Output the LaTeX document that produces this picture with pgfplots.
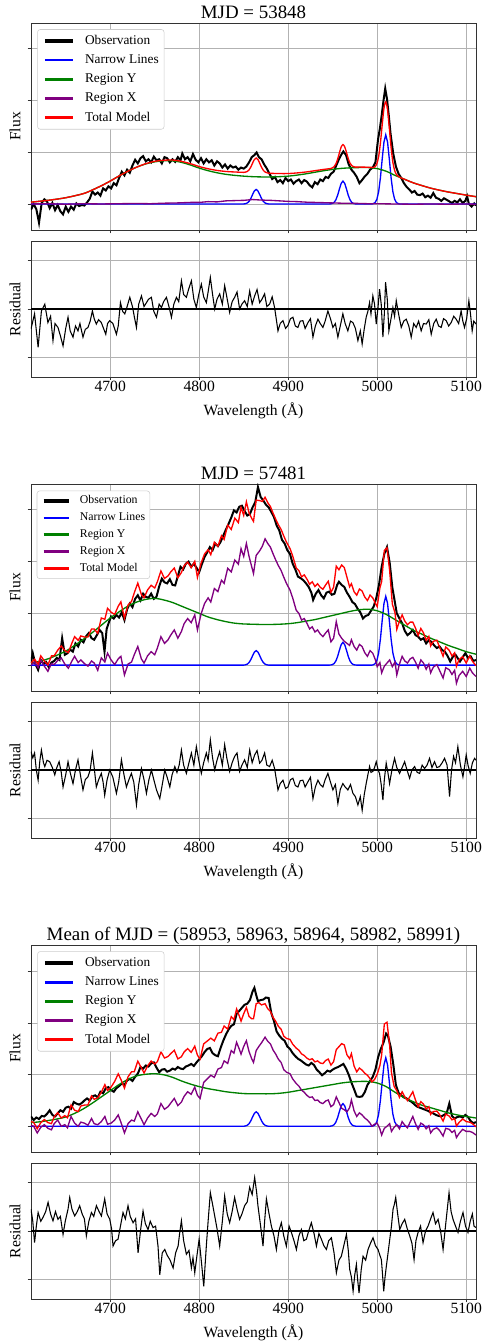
\documentclass[border=0pt]{standalone}
\usepackage{fontspec}
\setmainfont{Liberation Serif}
\usepackage{pgfplots}
\usepackage{pgfplotstable}
\pgfplotsset{compat=1.18}
\definecolor{mplgreen}{rgb}{0,0.5,0}
\definecolor{mplpurple}{rgb}{0.5,0,0.5}

% ---------------- shared narrow lines ----------------
\pgfplotstableread{
x y
4611 0
4850 0
4852 0.006
4854 0.019
4856 0.050
4858 0.106
4860 0.182
4862 0.251
4864 0.280
4866 0.251
4868 0.182
4870 0.106
4872 0.050
4874 0.019
4876 0.006
4878 0
4946 0
4947.5 0.002
4949.5 0.009
4951.5 0.029
4953.5 0.078
4955.5 0.166
4957.5 0.286
4959.5 0.395
4961.5 0.440
4963.5 0.395
4965.5 0.286
4967.5 0.166
4969.5 0.078
4971.5 0.029
4973.5 0.009
4975.5 0.002
4977 0
4994 0
4995.6 0.007
4997.6 0.027
4999.6 0.089
5001.6 0.235
5003.6 0.503
5005.6 0.863
5007.6 1.193
5009.6 1.330
5011.6 1.193
5013.6 0.863
5015.6 0.503
5017.6 0.235
5019.6 0.089
5021.6 0.027
5023.6 0.007
5025 0
5111 0
}\narrow

% ---------------- panel 1 ----------------
\pgfplotstableread{
x y
4611 -0.11
4614 0.00
4617 -0.10
4620 -0.36
4623 0.02
4626 0.09
4629 0.05
4632 -0.08
4635 0.02
4638 -0.12
4641 -0.02
4644 -0.14
4647 -0.20
4650 -0.05
4653 -0.15
4656 -0.05
4659 -0.11
4662 0.01
4665 -0.04
4668 -0.02
4671 -0.03
4674 0.03
4677 0.10
4680 0.24
4683 0.18
4686 0.22
4689 0.16
4692 0.30
4695 0.26
4698 0.34
4701 0.30
4704 0.40
4707 0.36
4710 0.50
4713 0.62
4716 0.55
4719 0.66
4722 0.60
4725 0.74
4728 0.85
4731 0.78
4734 0.88
4737 0.92
4740 0.82
4743 0.86
4746 0.80
4749 0.91
4752 0.84
4755 0.86
4758 0.78
4761 0.90
4764 0.88
4767 0.80
4770 0.86
4773 0.81
4776 0.90
4779 0.84
4781 0.97
4784 0.86
4787 0.90
4790 0.82
4793 0.96
4796 0.85
4799 0.80
4802 0.88
4805 0.78
4808 0.86
4811 0.80
4814 0.84
4817 0.74
4820 0.82
4823 0.78
4826 0.70
4829 0.76
4832 0.68
4835 0.74
4838 0.70
4841 0.72
4844 0.66
4847 0.70
4850 0.68
4853 0.72
4856 0.80
4859 0.90
4862 0.94
4864.5 0.99
4867 0.90
4870 0.86
4873 0.76
4876 0.68
4879 0.58
4882 0.48
4885 0.52
4888 0.42
4891 0.46
4894 0.40
4897 0.50
4900 0.44
4903 0.47
4906 0.39
4909 0.44
4912 0.47
4915 0.40
4918 0.46
4921 0.43
4924 0.36
4927 0.32
4930 0.42
4933 0.38
4936 0.47
4939 0.44
4942 0.52
4945 0.50
4948 0.58
4951 0.62
4954 0.74
4957 0.86
4960 0.96
4962 1.01
4965 0.94
4968 0.76
4971 0.66
4974 0.60
4977 0.52
4980 0.40
4983 0.46
4986 0.53
4989 0.58
4992 0.66
4995 0.70
4998 0.80
5001 1.25
5003 1.45
5005 1.70
5007 1.98
5009 2.22
5011 2.02
5013 1.70
5015 1.35
5018 0.97
5021 0.72
5024 0.58
5027 0.50
5030 0.40
5033 0.33
5036 0.28
5039 0.22
5042 0.25
5045 0.18
5048 0.17
5051 0.20
5054 0.13
5057 0.16
5060 0.12
5063 0.21
5066 0.12
5069 0.10
5072 0.06
5075 0.11
5078 0.08
5081 0.05
5084 0.02
5087 0.06
5090 0.03
5093 0.09
5096 0.02
5099 0.06
5101 0.15
5103 0.00
5106 -0.05
5109 0.01
5111 -0.03
}\obsA

\pgfplotstableread{
x y
4611 0.035
4630 0.07
4650 0.12
4670 0.20
4680 0.27
4690 0.35
4700 0.44
4710 0.54
4720 0.63
4730 0.71
4740 0.77
4750 0.81
4760 0.83
4770 0.83
4780 0.80
4790 0.75
4800 0.69
4810 0.64
4820 0.60
4830 0.57
4840 0.55
4850 0.535
4860 0.525
4870 0.52
4880 0.52
4890 0.525
4900 0.535
4910 0.555
4920 0.58
4930 0.61
4940 0.64
4950 0.665
4960 0.685
4970 0.695
4980 0.70
4990 0.70
5000 0.68
5010 0.63
5020 0.55
5030 0.48
5040 0.41
5050 0.355
5060 0.305
5070 0.265
5080 0.23
5090 0.20
5100 0.17
5111 0.14
}\regYA

\pgfplotstableread{
x y
4611 0.00
4630 0.005
4650 -0.005
4670 0.005
4690 0.00
4710 0.005
4730 0.01
4745 0.005
4760 0.015
4775 0.02
4790 0.03
4800 0.03
4810 0.045
4820 0.04
4830 0.06
4840 0.065
4850 0.07
4860 0.085
4870 0.075
4880 0.07
4890 0.06
4900 0.05
4910 0.045
4920 0.035
4930 0.03
4940 0.025
4950 0.02
4960 0.015
4970 0.015
4980 0.01
4990 0.005
5000 0.005
5020 0.00
5040 -0.005
5060 0.00
5080 -0.005
5100 0.00
5111 -0.005
}\regXA

\pgfplotstableread{
x y
4611 0.035
4630 0.07
4650 0.12
4670 0.20
4680 0.27
4690 0.35
4700 0.44
4710 0.54
4720 0.63
4730 0.71
4740 0.775
4750 0.82
4760 0.84
4770 0.845
4780 0.82
4790 0.775
4800 0.72
4810 0.677
4820 0.645
4830 0.625
4840 0.615
4850 0.608
4852 0.613
4854 0.625
4856 0.655
4858 0.71
4860 0.787
4862 0.855
4864 0.883
4866 0.853
4868 0.783
4870 0.706
4872 0.648
4874 0.615
4876 0.60
4880 0.59
4890 0.585
4900 0.585
4910 0.597
4920 0.615
4930 0.64
4940 0.665
4947.5 0.681
4949.5 0.693
4951.5 0.716
4953.5 0.768
4955.5 0.859
4957.5 0.982
4959.5 1.094
4961.5 1.142
4963.5 1.098
4965.5 0.99
4967.5 0.871
4969.5 0.784
4971.5 0.736
4973.5 0.716
4976 0.708
4980 0.71
4985 0.708
4990 0.707
4995.6 0.702
4997.6 0.718
4999.6 0.775
5001.6 0.913
5003.6 1.172
5005.6 1.521
5007.6 1.84
5009.6 1.964
5011.6 1.812
5013.6 1.464
5015.6 1.086
5017.6 0.801
5019.6 0.642
5021.6 0.566
5023.6 0.532
5026 0.508
5030 0.48
5040 0.41
5050 0.355
5060 0.305
5070 0.265
5080 0.23
5090 0.20
5100 0.17
5111 0.14
}\totA

\pgfplotstableread{
x y
4611 -0.41
4615 -0.10
4619 -0.79
4622.7 -0.04
4626.5 0.10
4630 -0.28
4633 -0.15
4635.7 -0.65
4638 -0.30
4641.3 -0.38
4644 -0.55
4647 -0.76
4650 -0.40
4652.6 -0.17
4655 -0.45
4658.2 -0.58
4661 -0.35
4663.8 -0.45
4666 -0.30
4669.4 -0.58
4672 -0.42
4675 -0.38
4677.5 -0.25
4680 -0.04
4682 -0.20
4684.4 -0.31
4687 -0.22
4690 -0.28
4692.5 -0.40
4695 -0.52
4697 -0.30
4699.5 -0.24
4703 -0.30
4707 -0.52
4709 -0.35
4711.5 0.13
4714 -0.05
4716.4 -0.10
4719 0.05
4722 0.24
4725 0.05
4727 -0.15
4729.5 -0.38
4732 0.10
4735.1 0.27
4738 0.05
4740.7 0.13
4743 0.20
4746.3 0.24
4749 -0.05
4752 -0.17
4755 0.10
4757.6 0.03
4760 0.15
4763.2 0.24
4766 0.05
4768.8 -0.17
4771.5 0.10
4774.4 0.24
4777 0.15
4780 0.58
4782.5 0.30
4785.6 0.24
4788 0.40
4791.2 0.58
4794 0.20
4796.8 0.03
4799.5 0.30
4802.4 0.51
4805 0.25
4808 0.13
4810 0.35
4812.5 0.65
4815 0.30
4817.4 0.00
4820 0.20
4823 0.31
4826 0.10
4828.6 0.48
4831 0.25
4834.2 -0.07
4837 0.15
4839.8 0.24
4842.5 0.35
4845.4 0.00
4848 0.10
4851 0.17
4854 0.05
4856.7 0.37
4859.5 0.10
4862.3 0.27
4865 0.40
4867.9 0.13
4870.5 0.20
4873.5 0.31
4876 0.05
4879.1 0.10
4882 0.25
4884.7 0.03
4888.5 -0.45
4891 -0.30
4894.1 -0.24
4897 -0.40
4899.7 -0.34
4902.5 -0.20
4905.3 -0.17
4908 -0.35
4910.9 -0.38
4913.5 -0.25
4916.5 -0.24
4919 -0.40
4922.2 -0.28
4925 -0.20
4927.8 -0.58
4930.5 -0.35
4933.4 -0.21
4936 -0.30
4939 -0.38
4941.5 -0.25
4944.6 -0.04
4947.5 -0.20
4950.2 -0.38
4953 -0.30
4955.8 -0.58
4958.5 -0.35
4961.4 -0.10
4964 -0.30
4967 -0.45
4970 -0.25
4972.7 -0.28
4975.5 -0.40
4978.3 -0.65
4981 -0.45
4983.1 -0.72
4985.5 -0.40
4987.6 -0.17
4989.5 -0.05
4991.4 0.13
4993 -0.10
4995.1 0.27
4997 0.10
4998.9 -0.31
5001 0.05
5002.6 0.41
5004.5 0.10
5006.4 -0.58
5008 -0.10
5009.4 0.55
5011.3 0.20
5013.1 -0.45
5015.5 -0.20
5017.6 0.03
5019.5 -0.15
5021.4 0.17
5024 -0.10
5027 -0.38
5029.8 -0.25
5032.6 -0.21
5035.5 -0.35
5038.2 -0.58
5041 -0.30
5043.8 -0.38
5046.5 -0.25
5049.4 -0.45
5052 -0.30
5055.1 -0.31
5058 -0.22
5060.7 -0.52
5063.5 -0.30
5066.3 -0.21
5069 -0.35
5071.9 -0.38
5074.5 -0.20
5077.5 -0.24
5080.3 -0.35
5083.1 -0.28
5086 -0.15
5088.7 -0.21
5091.5 -0.30
5094.3 -0.04
5096.2 -0.25
5098.1 -0.38
5100.5 -0.20
5103 0.17
5104.8 -0.10
5106.7 -0.45
5108.5 -0.25
5111 -0.31
}\resA

% ---------------- panel 2 ----------------
\pgfplotstableread{
x y
4611 0.05
4613 0.23
4616 0.02
4619 -0.09
4622 0.10
4625 0.02
4628 0.06
4631 -0.04
4634 0.05
4637 0.08
4640 0.14
4643 0.10
4646 0.52
4649 0.20
4652 0.23
4655 0.30
4658 0.26
4661 0.42
4664 0.36
4667 0.49
4670 0.44
4673 0.56
4676 0.62
4679 0.52
4682 0.49
4685 0.58
4688 0.68
4691 0.62
4693.6 0.26
4696 0.70
4699 0.85
4701 0.94
4704 0.90
4707 0.97
4710 0.92
4713 1.02
4716 0.87
4719 1.08
4722 1.19
4725 1.12
4728 1.28
4731 1.35
4734 1.25
4737 1.38
4740 1.32
4743 1.30
4746 1.38
4749 1.28
4752 1.32
4755 1.52
4758 1.67
4761 1.60
4764 1.58
4767 1.66
4770 1.55
4773 1.54
4776 1.72
4779 1.90
4782 1.85
4785 1.96
4788 2.00
4791 1.90
4794 1.96
4797 1.88
4800 1.80
4803 1.95
4806 2.09
4809 2.18
4812 2.28
4815 2.22
4818 2.35
4821 2.30
4824 2.38
4827 2.50
4830 2.62
4833 2.73
4836 2.85
4839 2.99
4842 2.95
4845 3.06
4848 3.08
4851 2.98
4854 2.89
4857 2.92
4860 3.05
4863 3.15
4866 3.44
4869 3.25
4872 3.18
4875 3.10
4878 3.05
4881 2.96
4884 2.86
4887 2.70
4890 2.60
4893 2.42
4896 2.35
4899 2.22
4902 2.15
4905 1.96
4908 1.85
4911 1.71
4914 1.68
4917 1.64
4920 1.58
4923 1.51
4926 1.40
4928 1.26
4931 1.38
4934 1.45
4937 1.35
4940 1.29
4943 1.40
4946 1.42
4949 1.36
4952 1.38
4955 1.55
4957 1.61
4960 1.55
4963 1.51
4966 1.40
4969 1.32
4972 1.22
4975 1.18
4978 1.09
4981 1.02
4984 0.90
4987 0.95
4990 0.97
4993 1.05
4996 1.13
4999 1.30
5002 1.55
5005 1.90
5008 2.15
5011 2.28
5014 1.98
5017 1.50
5019 1.30
5022 1.00
5025 0.90
5028 0.81
5031 0.66
5034 0.58
5037 0.62
5040 0.68
5043 0.58
5046 0.55
5049 0.49
5052 0.52
5055 0.42
5058 0.48
5061 0.45
5064 0.38
5067 0.33
5070 0.36
5073 0.29
5076 0.26
5079 0.18
5082 0.07
5085 0.16
5088 0.20
5091 0.12
5093 0.07
5096 0.15
5099 0.23
5102 0.14
5105 0.17
5108 0.08
5111 0.10
}\obsB

\pgfplotstableread{
x y
4611 0.04
4620 0.07
4630 0.12
4640 0.19
4650 0.27
4660 0.38
4670 0.50
4680 0.63
4690 0.77
4700 0.91
4710 1.03
4720 1.14
4730 1.22
4740 1.27
4750 1.29
4760 1.26
4770 1.21
4780 1.14
4790 1.07
4800 1.00
4810 0.93
4820 0.88
4830 0.84
4840 0.81
4850 0.795
4860 0.79
4870 0.785
4880 0.785
4890 0.79
4900 0.80
4910 0.82
4920 0.85
4930 0.88
4940 0.92
4950 0.96
4960 1.00
4970 1.04
4980 1.07
4990 1.08
5000 1.05
5010 0.98
5020 0.88
5030 0.78
5040 0.68
5050 0.60
5060 0.52
5070 0.45
5080 0.38
5090 0.32
5100 0.26
5111 0.21
}\regYB

\pgfplotstableread{
x X T
4611 0.00 0.04
4615 0.06 0.113
4619 -0.05 0.017
4622 0.10 0.18
4626 -0.02 0.08
4630 -0.12 0.00
4634 0.03 0.178
4637 0.01 0.179
4641 0.09 0.288
4645 0.14 0.37
4649 0.02 0.282
4653 -0.06 0.243
4657 0.08 0.427
4660 0.17 0.55
4664 0.05 0.478
4667 0.10 0.564
4671 0.03 0.543
4675 -0.02 0.545
4679 0.08 0.697
4682 0.04 0.698
4686 -0.10 0.614
4690 0.14 0.91
4694 0.06 0.886
4697 0.23 1.098
4701 0.10 1.022
4705 0.01 0.98
4709 0.12 1.138
4712 0.17 1.222
4716 -0.19 0.906
4720 0.02 1.16
4724 0.06 1.232
4727 0.20 1.396
4731 0.36 1.585
4735 0.12 1.365
4738 0.04 1.30
4742 0.18 1.454
4746 0.26 1.542
4750 0.20 1.49
4753 0.33 1.611
4757 0.55 1.819
4761 0.42 1.675
4765 0.49 1.725
4768 0.58 1.80
4772 0.68 1.876
4776 0.52 1.688
4780 0.65 1.79
4783 0.80 1.919
4787 0.90 1.991
4791 0.82 1.883
4795 0.97 2.005
4798 0.68 1.694
4802 0.98 1.966
4806 1.19 2.148
4810 1.30 2.23
4813 1.22 2.135
4817 1.48 2.375
4821 1.42 2.296
4825 1.64 2.50
4828 1.58 2.428
4832 1.87 2.704
4836 1.80 2.622
4840 2.03 2.84
4844 1.95 2.754
4847 2.25 3.05
4850 2.10 2.895
4853 2.35 3.156
4856 2.10 2.942
4859 1.90 2.835
4861 1.77 2.777
4864 2.12 3.189
4868 2.21 3.178
4871 2.30 3.163
4874 2.44 3.244
4877 2.35 3.138
4880 2.28 3.065
4883 2.15 2.936
4886 2.03 2.818
4889 1.92 2.71
4892 1.83 2.622
4895 1.70 2.495
4898 1.58 2.378
4902 1.45 2.254
4905 1.30 2.11
4909 1.06 1.878
4912 1.00 1.826
4915 0.87 1.705
4918 0.90 1.744
4921 0.81 1.663
4924 0.70 1.562
4927 0.74 1.611
4930 0.64 1.52
4933 0.68 1.572
4936 0.60 1.504
4939 0.55 1.466
4942 0.62 1.548
4945 0.68 1.62
4948 0.45 1.406
4951 0.52 1.506
4954 0.84 1.912
4957 0.60 1.842
4960 0.52 1.934
4963 0.46 1.886
4966 0.42 1.698
4969 0.38 1.512
4971 0.49 1.572
4974 0.36 1.418
4977 0.29 1.351
4980 0.40 1.47
4983 0.36 1.433
4986 0.24 1.316
4989 0.17 1.249
4992 0.28 1.354
4995 0.23 1.299
4998 0.10 1.191
5000 -0.03 1.13
5003 0.05 1.489
5005 -0.15 1.615
5008 -0.02 2.215
5011 0.04 2.267
5014 0.10 1.824
5017 -0.03 1.178
5020 0.06 1.011
5022 -0.19 0.691
5025 0.02 0.852
5028 0.17 0.97
5031 0.08 0.85
5034 0.04 0.78
5037 0.12 0.83
5040 0.15 0.83
5043 0.06 0.716
5046 -0.06 0.572
5049 0.10 0.708
5052 0.04 0.624
5055 -0.08 0.48
5058 0.02 0.556
5060 -0.15 0.37
5063 -0.04 0.459
5067 0.01 0.481
5070 -0.10 0.35
5074 -0.25 0.172
5077 -0.05 0.351
5081 -0.09 0.284
5084 -0.18 0.176
5087 -0.10 0.238
5089 -0.35 -0.024
5092 -0.20 0.108
5096 -0.12 0.164
5100 -0.22 0.04
5104 -0.06 0.18
5107 -0.15 0.075
5111 -0.22 -0.01
}\modB

\pgfplotstableread{
x y
4611 0.38
4613 0.25
4615 0.35
4617 0.00
4619 -0.21
4621 0.20
4622.7 0.41
4625 0.15
4626.5 0.07
4629 0.20
4632 0.17
4635 0.05
4637.7 -0.10
4640 0.05
4642.6 0.17
4645 -0.05
4647 -0.35
4650 -0.10
4652.6 0.17
4655 -0.05
4658.2 -0.28
4661 0.00
4663.8 0.21
4666.5 -0.10
4669.4 -0.41
4672 -0.20
4675 -0.14
4677.5 0.00
4680 0.35
4682 0.05
4684.4 -0.35
4687 -0.20
4690 -0.07
4692 -0.25
4693.8 -0.52
4696.5 -0.20
4699.5 0.00
4703 -0.15
4707 -0.48
4709.5 -0.25
4712.6 0.21
4715.5 -0.10
4718.2 -0.35
4721 -0.20
4723.8 -0.07
4726.5 -0.25
4729.5 -0.72
4732 -0.30
4735.1 0.03
4738 -0.20
4740.7 -0.48
4743.5 -0.20
4746.3 0.00
4749 -0.20
4752 -0.41
4755.7 -0.59
4758.5 -0.30
4761.3 0.00
4764 -0.15
4767 -0.35
4769.5 -0.10
4772.6 0.07
4775 -0.05
4777.5 0.10
4780 0.41
4782.5 0.10
4785.6 -0.07
4788.5 0.15
4791.2 0.35
4794 0.10
4796.8 0.48
4799.5 0.20
4802.4 -0.07
4805 0.15
4808 0.35
4810 0.20
4812.5 0.62
4815 0.25
4817.4 0.00
4820 0.20
4823 0.38
4826 0.10
4828.6 0.52
4831 0.25
4834.2 -0.03
4837 0.15
4839.8 0.28
4842.5 0.35
4845.4 -0.03
4848 0.10
4851 0.21
4854 0.05
4856.7 0.41
4859.5 0.15
4862.3 0.31
4865 0.40
4867.9 0.14
4870.5 0.20
4873.5 0.35
4876 0.10
4879.1 0.07
4882 0.20
4884.7 0.03
4888.5 -0.41
4891 -0.28
4894.1 -0.21
4897 -0.38
4899.7 -0.35
4902.5 -0.20
4905.3 -0.17
4908 -0.32
4910.9 -0.35
4913.5 -0.22
4916.5 -0.21
4919 -0.35
4922.2 -0.24
4925 -0.15
4927.8 -0.59
4930.5 -0.35
4933.4 -0.21
4936 -0.30
4939 -0.35
4941.5 -0.20
4944.6 -0.07
4947.5 -0.25
4950.2 -0.41
4953 -0.30
4955.8 -0.69
4958.5 -0.40
4961.4 -0.28
4964 -0.35
4967 -0.41
4970 -0.30
4972.7 -0.48
4975.5 -0.55
4978.3 -0.72
4981 -0.55
4983.1 -0.83
4985.5 -0.50
4987.6 -0.28
4989.5 -0.10
4991.4 0.07
4993 -0.05
4995.1 -0.03
4997 0.05
4998.9 0.17
5001 0.00
5002.6 -0.07
5004.5 -0.30
5006.4 -0.62
5008 -0.20
5010.1 0.14
5012 -0.05
5013.9 -0.28
5016.5 0.00
5019.5 0.24
5022 0.05
5025.1 -0.07
5028 0.05
5030.8 0.17
5033.5 0.00
5036.4 -0.17
5039 0.00
5042 0.07
5045 -0.05
5047.6 -0.07
5050.5 0.10
5053.2 0.03
5056 0.10
5058.8 0.24
5061.5 0.05
5064.4 0.17
5067 0.05
5070 0.07
5073 0.15
5075.7 0.24
5078.5 0.10
5081.3 -0.55
5083.5 0.00
5085.8 0.28
5088 0.15
5090.6 0.48
5093.5 0.10
5096.3 -0.14
5098 0.05
5100 0.31
5102 0.10
5104.5 -0.07
5107 0.15
5109.4 0.24
5111 0.20
}\resB

% ---------------- panel 3 ----------------
\pgfplotstableread{
x y
4611 0.19
4614 0.12
4617 0.17
4620 0.14
4623 0.20
4626 0.19
4629 0.24
4632 0.31
4635 0.22
4638 0.19
4641 0.25
4644 0.31
4647 0.28
4650 0.36
4653 0.38
4656 0.34
4659 0.47
4662 0.44
4665 0.42
4668 0.45
4671 0.50
4674 0.54
4677 0.50
4680 0.58
4683 0.60
4686 0.56
4689 0.67
4692 0.64
4695 0.74
4698 0.76
4701 0.70
4704 0.67
4707 0.74
4710 0.78
4713 0.83
4716 0.80
4719 0.89
4722 0.92
4725 0.88
4728 0.96
4731 1.02
4734 1.15
4737 1.12
4740 1.18
4743 1.16
4746 1.22
4749 1.24
4752 1.14
4755 1.05
4758 1.10
4761 1.11
4764 1.06
4767 1.08
4770 1.12
4773 1.10
4776 1.15
4779 1.12
4782 1.11
4785 1.16
4788 1.18
4791 1.21
4794 1.17
4797 1.24
4800 1.30
4803 1.36
4806 1.44
4809 1.50
4812 1.52
4815 1.42
4818 1.38
4821 1.36
4824 1.52
4827 1.66
4830 1.78
4833 1.88
4836 1.95
4839 1.98
4842 2.18
4845 2.24
4848 2.30
4851 2.36
4854 2.38
4857 2.45
4860 2.62
4862 2.69
4864 2.55
4866 2.43
4869 2.45
4872 2.46
4875 2.50
4878 2.49
4881 2.20
4884 2.04
4887 1.84
4890 1.76
4893 1.70
4896 1.66
4899 1.55
4902 1.50
4905 1.42
4908 1.36
4911 1.31
4914 1.28
4917 1.24
4920 1.20
4923 1.18
4926 1.23
4929 1.19
4932 1.10
4935 1.05
4938 0.99
4941 1.03
4944 1.08
4947 1.06
4950 1.10
4953 1.13
4956 1.15
4959 1.18
4962 1.21
4965 1.12
4968 1.00
4971 0.85
4974 0.72
4977 0.58
4980 0.57
4983 0.58
4986 0.66
4989 0.80
4992 0.88
4995 0.96
4998 1.10
5001 1.34
5004 1.50
5007 1.62
5010 1.80
5012 1.76
5015 1.55
5018 1.21
5021 0.80
5024 0.65
5027 0.60
5030 0.56
5033 0.54
5036 0.50
5039 0.47
5042 0.42
5045 0.38
5048 0.36
5051 0.34
5054 0.32
5057 0.30
5060 0.27
5063 0.25
5066 0.22
5069 0.20
5072 0.19
5075 0.22
5078 0.25
5081 0.44
5084 0.20
5087 0.15
5090 0.18
5093 0.19
5096 0.17
5099 0.22
5102 0.18
5105 0.10
5108 0.06
5111 0.08
}\obsC

\pgfplotstableread{
x y
4611 0.07
4620 0.085
4630 0.11
4640 0.14
4650 0.18
4660 0.25
4670 0.34
4680 0.45
4690 0.57
4700 0.69
4710 0.81
4720 0.91
4730 0.98
4740 1.01
4750 1.02
4760 1.00
4770 0.95
4780 0.88
4790 0.82
4800 0.77
4810 0.73
4820 0.70
4830 0.67
4840 0.65
4850 0.635
4860 0.63
4870 0.63
4880 0.63
4890 0.64
4900 0.66
4910 0.69
4920 0.72
4930 0.75
4940 0.78
4950 0.81
4960 0.84
4970 0.86
4980 0.87
4990 0.87
5000 0.84
5010 0.77
5020 0.66
5030 0.56
5040 0.48
5050 0.41
5060 0.36
5070 0.31
5080 0.26
5090 0.22
5100 0.19
5111 0.16
}\regYC

\pgfplotstableread{
x X T
4611 0.02 0.09
4614 0.00 0.075
4618 -0.13 -0.048
4622 -0.02 0.07
4626 0.03 0.13
4630 -0.04 0.07
4634 -0.07 0.052
4637 0.05 0.181
4641 0.12 0.264
4645 0.00 0.16
4649 0.03 0.206
4652 -0.03 0.164
4656 0.19 0.412
4660 0.06 0.31
4664 0.00 0.286
4667 0.08 0.393
4671 0.06 0.411
4675 0.02 0.415
4679 0.15 0.589
4682 0.05 0.524
4686 0.03 0.552
4690 0.09 0.66
4694 0.19 0.808
4697 0.04 0.694
4701 0.06 0.762
4705 0.12 0.87
4709 0.22 1.018
4712 0.08 0.91
4716 -0.13 0.74
4720 0.05 0.96
4724 0.12 1.058
4727 0.10 1.059
4731 0.28 1.263
4735 0.14 1.135
4738 0.03 1.034
4742 0.16 1.172
4746 0.25 1.266
4750 0.19 1.21
4753 0.24 1.254
4757 0.44 1.446
4761 0.33 1.325
4765 0.38 1.355
4768 0.45 1.41
4772 0.54 1.476
4776 0.40 1.308
4780 0.47 1.35
4783 0.58 1.442
4787 0.67 1.508
4791 0.62 1.435
4795 0.76 1.555
4798 0.60 1.38
4801 0.54 1.306
4805 0.85 1.60
4809 0.92 1.654
4813 0.99 1.711
4817 0.95 1.659
4821 1.11 1.807
4825 1.14 1.825
4828 1.27 1.946
4832 1.22 1.886
4836 1.47 2.128
4839 1.42 2.072
4842 1.63 2.277
4845 1.50 2.143
4847 1.40 2.04
4850 1.55 2.185
4853 1.66 2.306
4856 1.45 2.133
4859 1.31 2.087
4861 1.24 2.087
4864 1.47 2.38
4867 1.55 2.40
4870 1.62 2.356
4874 1.73 2.379
4877 1.65 2.283
4880 1.60 2.23
4883 1.48 2.113
4886 1.40 2.036
4889 1.30 1.939
4892 1.24 1.884
4895 1.10 1.75
4898 1.05 1.706
4902 1.02 1.686
4905 0.92 1.595
4909 0.83 1.517
4912 0.78 1.476
4915 0.70 1.405
4918 0.66 1.374
4921 0.60 1.323
4924 0.56 1.292
4927 0.57 1.311
4930 0.50 1.25
4933 0.51 1.269
4936 0.46 1.228
4939 0.44 1.217
4942 0.49 1.276
4945 0.51 1.305
4948 0.38 1.188
4951 0.42 1.255
4954 0.57 1.488
4957 0.46 1.545
4960 0.35 1.604
4963 0.32 1.58
4966 0.28 1.386
4969 0.36 1.314
4971 0.51 1.41
4974 0.30 1.17
4977 0.19 1.057
4980 0.26 1.13
4983 0.22 1.09
4986 0.16 1.03
4989 0.12 0.99
4992 0.06 0.924
4994 0.00 0.861
4997 0.04 0.907
5000 0.06 1.01
5003 -0.05 1.179
5005 -0.17 1.385
5008 -0.04 1.985
5011 0.00 2.02
5014 0.05 1.564
5016 -0.10 1.043
5019 -0.02 0.773
5022 0.03 0.691
5025 -0.05 0.562
5028 0.09 0.67
5031 0.02 0.572
5034 -0.03 0.498
5037 0.08 0.584
5040 0.19 0.67
5043 0.05 0.509
5046 -0.06 0.378
5049 0.06 0.477
5052 0.03 0.43
5055 -0.05 0.335
5058 0.01 0.38
5060 -0.13 0.23
5063 -0.06 0.285
5067 -0.03 0.295
5070 -0.08 0.23
5074 -0.19 0.10
5077 -0.04 0.235
5081 -0.06 0.196
5084 -0.12 0.124
5087 -0.08 0.152
5089 -0.22 0.004
5092 -0.14 0.074
5096 -0.06 0.142
5100 -0.10 0.09
5104 -0.10 0.079
5107 -0.12 0.051
5111 -0.17 -0.01
}\modC

\pgfplotstableread{
x y
4611 0.45
4613 0.20
4615 -0.24
4617 0.10
4619 0.38
4622 0.20
4624.5 0.28
4627.5 0.40
4630.2 0.59
4633 0.35
4635.7 0.21
4638.5 0.40
4641.3 0.24
4644 0.30
4647 -0.07
4649.5 0.20
4652.6 0.45
4654.5 0.69
4657 0.45
4660.1 0.31
4663 0.40
4665.7 0.52
4668.5 0.35
4671 0.25
4673.2 -0.10
4676 0.20
4678.9 0.38
4681.5 0.30
4684.5 0.52
4687.5 0.40
4690.1 0.31
4693.8 0.66
4696.5 0.35
4699.5 0.24
4701.5 0.05
4703.2 -0.31
4706 -0.20
4708.8 -0.17
4711.5 0.10
4714.4 0.38
4717 0.25
4720 0.52
4722.5 0.30
4725.7 0.17
4728.5 0.25
4731.3 -0.45
4734 0.00
4736.9 0.41
4739.5 0.15
4742.5 0.03
4745 0.20
4748.1 0.07
4751 0.10
4753.7 -0.31
4755.7 -0.90
4758.5 -0.45
4761.3 -0.38
4764 -0.50
4767 -0.59
4770.7 -0.76
4773.5 -0.45
4776.3 -0.31
4778 -0.05
4780 0.21
4782.5 -0.20
4785.6 -0.48
4788.5 -0.40
4791.2 -0.76
4793 -0.55
4795 -0.86
4797.5 -0.50
4799.9 -0.17
4802.4 -0.62
4805.1 -1.14
4808 -0.31
4810 0.20
4812.5 0.79
4815 0.55
4817.4 0.31
4820 0.05
4823 -0.31
4826 0.20
4828.6 0.72
4831.5 0.35
4834.2 0.17
4837 0.40
4839.8 0.69
4842.5 0.45
4845.4 0.24
4848 0.35
4851 0.52
4854 0.60
4856.7 0.90
4859.5 0.75
4862.3 1.10
4864.5 0.80
4866 0.52
4869 0.10
4871.7 -0.31
4873.5 0.20
4875.5 0.66
4878.5 0.35
4881.1 0.10
4884 -0.10
4886.7 -0.38
4889.5 0.00
4892.3 0.17
4895 -0.10
4897.9 -0.31
4901 0.10
4903.6 -0.03
4906.5 -0.20
4909.2 -0.38
4912 -0.10
4914.8 0.03
4917.5 -0.20
4920.4 -0.17
4923 0.00
4926 0.17
4929 -0.05
4931.7 -0.31
4934.5 -0.05
4937.3 -0.17
4940 -0.30
4942.9 -0.38
4945.5 -0.20
4948.5 -0.14
4951.5 -0.45
4954.1 -0.86
4957 -0.60
4959.7 -0.52
4962.5 -0.30
4965.4 -0.07
4967.5 -0.40
4969.1 -0.79
4971 -0.95
4972.9 -1.24
4974.8 -0.90
4976.6 -0.69
4978 -1.00
4979.6 -1.28
4982 -0.80
4984.1 -0.52
4987 -0.60
4989.7 -0.38
4992.5 -0.25
4995.3 -0.14
4998 -0.30
5000.9 -0.38
5003 -0.50
5004.7 -0.59
5006 -0.90
5007.3 -1.24
5008.8 -0.95
5010.3 -0.72
5012.2 -0.45
5014.1 -0.17
5016 0.10
5017.8 0.45
5019.3 0.55
5020.8 0.69
5023 0.35
5025.3 0.03
5028 0.15
5030.9 0.24
5033.7 0.05
5036.5 -0.10
5039 -0.25
5041.4 -0.59
5043.5 -0.20
5045.9 -0.03
5048.7 0.10
5051.5 -0.24
5054.3 0.00
5057.1 0.10
5060 0.25
5062.7 0.38
5065.5 0.15
5068.4 0.24
5071.2 0.00
5074 -0.38
5077.3 0.20
5080.7 0.79
5083 0.40
5085.2 0.24
5088 0.10
5090.8 -0.03
5093.5 0.20
5096.4 0.38
5099.2 0.10
5102 -0.03
5104.5 0.20
5106.9 0.35
5108.8 0.10
5111 0.07
}\resC

\pgfplotsset{
  base/.style={
    scale only axis, width=333.75pt,
    xmin=4611, xmax=5111,
    xtick={4700,4800,4900,5000,5100},
    grid=major,
    major grid style={line width=0.6pt, color=black!30},
    axis line style={line width=0.65pt, black!80},
    tick align=outside, tick pos=left,
    major tick length=2.6pt,
    every tick/.style={black!80, line width=0.6pt},
    yticklabels={},
    ylabel style={at={(axis description cs:-0.036,0.5)}, anchor=center,
      font=\fontsize{11.7}{13}\selectfont},
    xticklabel style={font=\fontsize{11.7}{13}\selectfont, yshift=3pt},
    legend cell align=left,
  },
  flux/.style={base, height=155.25pt, ymin=-0.5, ytick={0,1,2,3},
    xticklabels={}, ylabel={Flux},
    title style={at={(axis description cs:0.5,1)}, anchor=base, yshift=-2.4pt,
      font=\fontsize{14.2}{16}\selectfont},
  },
  res/.style={base, height=102pt, ymin=-1.4, ymax=1.4, ytick={-1,0,1},
    xticklabels={4700,4800,4900,5000,5100},
    xlabel={Wavelength (Å)}, ylabel={Residual},
    xlabel style={at={(axis description cs:0.5,0)}, anchor=base, yshift=-29.25pt,
      font=\fontsize{11.7}{13}\selectfont},
  },
  legbig/.style={
    legend style={at={(axis description cs:0,1)}, anchor=north west,
      xshift=4.7pt, yshift=-4.7pt, draw=black!20, rounded corners=2pt,
      fill=white,
      inner xsep=4pt, inner ysep=3.6pt, row sep=4.4pt,
      font=\fontsize{10}{12}\selectfont,
      nodes={inner sep=0pt, text height=7.5pt, text depth=2.5pt},
      /tikz/every odd column/.append style={column sep=7.7pt}},
    legend image code/.code={\draw[##1, line width=1.4\pgflinewidth] (0pt,0pt) -- (21pt,0pt);},
  },
  legsmall/.style={
    legend style={at={(axis description cs:0,1)}, anchor=north west,
      xshift=4.3pt, yshift=-5pt, draw=black!20, rounded corners=2pt,
      fill=white,
      inner xsep=3.5pt, inner ysep=3.1pt, row sep=3.9pt,
      font=\fontsize{8.85}{10}\selectfont,
      nodes={inner sep=0pt, text height=6.6pt, text depth=2.2pt},
      /tikz/every odd column/.append style={column sep=7pt}},
    legend image code/.code={\draw[##1, line width=1.4\pgflinewidth] (0pt,0pt) -- (18.75pt,0pt);},
  },
}

\begin{document}
\begin{tikzpicture}
\useasboundingbox (0,0) rectangle (362.25pt,1008pt);

% ===== Panel 1 =====
\begin{axis}[flux, legbig, ymax=3.48, at={(23.25pt,990.75pt)}, anchor=north west,
  title={MJD = 53848}]
\addplot[black, line width=1.5pt] table[x=x,y=y]{\obsA};
\addlegendentry{Observation}
\addplot[blue, line width=1pt] table[x=x,y=y]{\narrow};
\addlegendentry{Narrow Lines}
\addplot[mplgreen, line width=1pt, smooth] table[x=x,y=y]{\regYA};
\addlegendentry{Region Y}
\addplot[mplpurple, line width=1pt] table[x=x,y=y]{\regXA};
\addlegendentry{Region X}
\addplot[red, line width=1pt, smooth] table[x=x,y=y]{\totA};
\addlegendentry{Total Model}
\end{axis}
\begin{axis}[res, at={(23.25pt,827.25pt)}, anchor=north west]
\addplot[black, line width=0.8pt] table[x=x,y=y]{\resA};
\addplot[black, line width=0.9pt] coordinates {(4611,0) (5111,0)};
\end{axis}

% ===== Panel 2 =====
\begin{axis}[flux, legsmall, ymax=3.5, at={(23.25pt,645pt)}, anchor=north west,
  title={MJD = 57481}]
\addplot[black, line width=1.5pt] table[x=x,y=y]{\obsB};
\addlegendentry{Observation}
\addplot[blue, line width=1pt] table[x=x,y=y]{\narrow};
\addlegendentry{Narrow Lines}
\addplot[mplgreen, line width=1pt, smooth] table[x=x,y=y]{\regYB};
\addlegendentry{Region Y}
\addplot[mplpurple, line width=1pt] table[x=x,y=X]{\modB};
\addlegendentry{Region X}
\addplot[red, line width=1pt] table[x=x,y=T]{\modB};
\addlegendentry{Total Model}
\end{axis}
\begin{axis}[res, at={(23.25pt,481.5pt)}, anchor=north west]
\addplot[black, line width=0.8pt] table[x=x,y=y]{\resB};
\addplot[black, line width=0.9pt] coordinates {(4611,0) (5111,0)};
\end{axis}

% ===== Panel 3 =====
\begin{axis}[flux, legbig, ymax=3.52, at={(23.25pt,299.25pt)}, anchor=north west,
  title={Mean of MJD = (58953, 58963, 58964, 58982, 58991)}]
\addplot[black, line width=1.5pt] table[x=x,y=y]{\obsC};
\addlegendentry{Observation}
\addplot[blue, line width=1pt] table[x=x,y=y]{\narrow};
\addlegendentry{Narrow Lines}
\addplot[mplgreen, line width=1pt, smooth] table[x=x,y=y]{\regYC};
\addlegendentry{Region Y}
\addplot[mplpurple, line width=1pt] table[x=x,y=X]{\modC};
\addlegendentry{Region X}
\addplot[red, line width=1pt] table[x=x,y=T]{\modC};
\addlegendentry{Total Model}
\end{axis}
\begin{axis}[res, at={(23.25pt,135.75pt)}, anchor=north west]
\addplot[black, line width=0.8pt] table[x=x,y=y]{\resC};
\addplot[black, line width=0.9pt] coordinates {(4611,0) (5111,0)};
\end{axis}

\end{tikzpicture}
\end{document}
